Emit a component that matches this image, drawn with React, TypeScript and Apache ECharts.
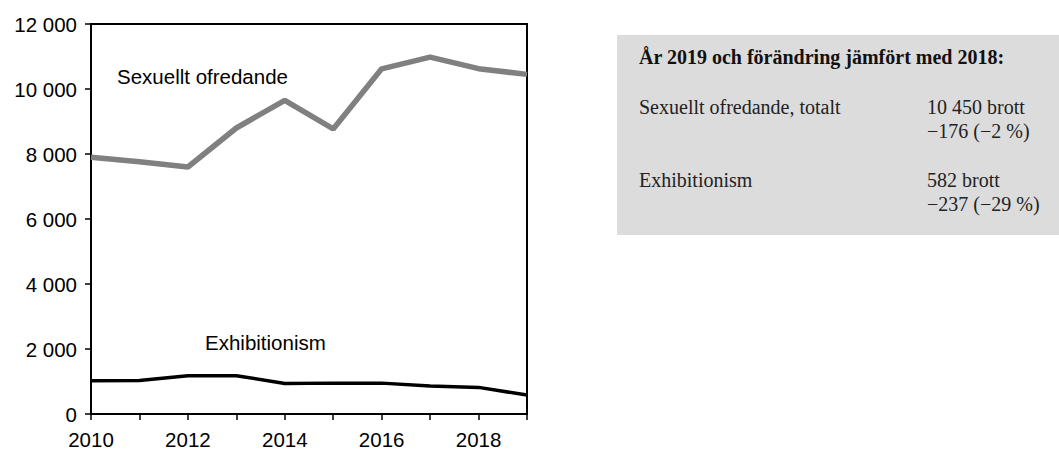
import React, { useEffect, useRef } from "react";
import * as echarts from "echarts";

const years = ["2010", "2011", "2012", "2013", "2014", "2015", "2016", "2017", "2018", "2019"];
const sexuelltOfredande = [7900, 7760, 7600, 8800, 9650, 8770, 10620, 10980, 10626, 10450];
const exhibitionism = [1020, 1030, 1180, 1180, 940, 950, 950, 860, 819, 582];
const yTicks = { min: 0, max: 12000, interval: 2000 };

const boxTitle = "År 2019 och förändring jämfört med 2018:";
const boxRows = [
  { name: "Sexuellt ofredande, totalt", value: "10 450 brott", change: "−176 (−2 %)" },
  { name: "Exhibitionism", value: "582 brott", change: "−237 (−29 %)" },
];

const fmt = (v: number) => {
  const s = String(Math.round(v));
  return s.replace(/\B(?=(\d{3})+(?!\d))/g, " ");
};

export default function App() {
  const ref = useRef<HTMLDivElement>(null);
  useEffect(() => {
    document.body.style.margin = "0";
    const chart = echarts.init(ref.current!, null, { renderer: "svg" });
    const serif = "'Liberation Serif', 'Times New Roman', serif";
    const sans = "'Liberation Sans', Arial, sans-serif";
    const rowY = [107, 180];
    const graphic: any[] = [
      {
        type: "rect",
        shape: { x: 617, y: 35, width: 442, height: 200 },
        style: { fill: "#dcdcdc" },
        silent: true,
      },
      {
        type: "text",
        x: 639,
        y: 57,
        style: { text: boxTitle, font: `bold 20px ${serif}`, fill: "#111", verticalAlign: "middle" },
      },
    ];
    boxRows.forEach((r, i) => {
      graphic.push({
        type: "text",
        x: 639,
        y: rowY[i],
        style: { text: r.name, font: `20px ${serif}`, fill: "#222", verticalAlign: "middle" },
      });
      graphic.push({
        type: "text",
        x: 927,
        y: rowY[i],
        style: { text: r.value, font: `20px ${serif}`, fill: "#222", verticalAlign: "middle" },
      });
      graphic.push({
        type: "text",
        x: 927,
        y: rowY[i] + 24,
        style: { text: r.change, font: `20px ${serif}`, fill: "#222", verticalAlign: "middle" },
      });
    });
    graphic.push({
      type: "text",
      x: 117,
      y: 76,
      style: { text: "Sexuellt ofredande", font: `20.5px ${sans}`, fill: "#000", verticalAlign: "middle" },
    });
    graphic.push({
      type: "text",
      x: 205,
      y: 342,
      style: { text: "Exhibitionism", font: `20.5px ${sans}`, fill: "#000", verticalAlign: "middle" },
    });

    chart.setOption({
      animation: false,
      grid: {
        left: 91,
        top: 24,
        width: 436,
        height: 391,
        show: true,
        borderColor: "#000",
        borderWidth: 2,
        backgroundColor: "transparent",
      },
      xAxis: {
        type: "category",
        data: years,
        boundaryGap: false,
        axisLine: { show: true, lineStyle: { color: "#000", width: 2 } },
        axisTick: { show: true, interval: 0, length: 6, lineStyle: { color: "#000", width: 1.5 } },
        axisLabel: { interval: 1, color: "#000", fontSize: 20.5, fontFamily: sans, margin: 15 },
        splitLine: { show: false },
      },
      yAxis: {
        type: "value",
        min: yTicks.min,
        max: yTicks.max,
        interval: yTicks.interval,
        axisLine: { show: true, lineStyle: { color: "#000", width: 2 } },
        axisTick: { show: true, length: 6, lineStyle: { color: "#000", width: 1.5 } },
        axisLabel: { color: "#000", fontSize: 20.5, fontFamily: sans, margin: 14, formatter: fmt },
        splitLine: { show: false },
      },
      series: [
        {
          type: "line",
          name: "Sexuellt ofredande",
          data: sexuelltOfredande,
          symbol: "none",
          lineStyle: { color: "#808080", width: 5.5 },
        },
        {
          type: "line",
          name: "Exhibitionism",
          data: exhibitionism,
          symbol: "none",
          lineStyle: { color: "#000", width: 3.5 },
        },
      ],
      graphic,
    });
    return () => chart.dispose();
  }, []);
  return <div ref={ref} style={{ width: 1059, height: 450 }} />;
}
